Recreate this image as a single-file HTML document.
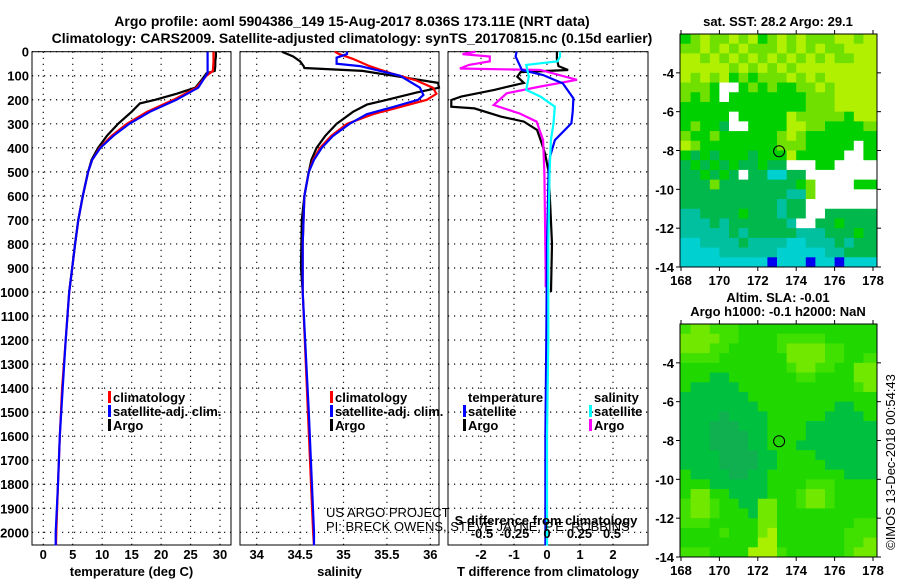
<!DOCTYPE html>
<html><head><meta charset="utf-8"><style>
body{margin:0;background:#fff;width:900px;height:580px;overflow:hidden}
svg text{font-family:"Liberation Sans",sans-serif;font-weight:bold;font-size:13px;fill:#000}
svg text.ttl{font-size:14px}
</style></head><body>
<svg id="fig" width="900" height="580" xmlns="http://www.w3.org/2000/svg">
<text class="ttl" x="352" y="26" text-anchor="middle">Argo profile: aoml 5904386_149 15-Aug-2017 8.036S 173.11E (NRT data)</text>
<text class="ttl" x="352" y="43" text-anchor="middle">Climatology: CARS2009. Satellite-adjusted climatology: synTS_20170815.nc (0.15d earlier)</text>
</svg>
<script>
// ---------- data ----------
const depthTicks=[0,100,200,300,400,500,600,700,800,900,1000,1100,1200,1300,1400,1500,1600,1700,1800,1900,2000];
const tempTicks=[0,5,10,15,20,25,30];
const salTicks=[34,34.5,35,35.5,36];
const salTickLabels=["34","34.5","35","35.5","36"];
const tdiffTicks=[-2,-1,0,1,2];
const sdiffTicks=[-0.5,-0.25,0,0.25,0.5];
const sdiffTickLabels=["-0.5","-0.25","0","0.25","0.5"];
// temperature profiles
const tArgoDepth=[0,20,40,60,80,90,120,150,175,200,215,250,300,350,400,450,500,600,700,800,900,1000];
const tArgoVal=[29.3,29.3,29.2,29.2,29.1,27.7,26.8,25.8,22.6,19,16.4,15.0,12.7,10.8,9.3,8.2,7.6,6.7,5.95,5.4,4.9,4.4];
const tClimDepth=[0,40,80,100,150,200,250,300,350,400,450,500,600,700,800,900,1000,1200,1400,1600,1800,2000,2055];
const tClimVal=[28.9,28.9,28.8,27.7,26.0,22.1,17.6,14.2,11.6,9.6,8.3,7.6,6.7,5.95,5.4,4.9,4.4,3.8,3.2,2.8,2.5,2.2,2.15];
const tSatDepth=[0,40,90,100,150,200,250,300,350,400,450,500,600,700,800,900,1000,1200,1400,1600,1800,2000,2055];
const tSatVal=[27.9,27.9,27.9,27.6,26.3,22.6,18.1,14.6,11.9,9.7,8.3,7.6,6.7,5.95,5.4,4.9,4.4,3.8,3.3,2.8,2.5,2.1,2.1];
// salinity profiles
const sArgoDepth=[0,20,40,60,68,80,100,130,150,170,200,220,250,300,350,400,450,500,600,700,900,1000];
const sArgoVal=[34.29,34.42,34.5,34.54,34.55,35.22,35.57,36.09,36.1,35.84,35.5,35.27,35.11,34.92,34.79,34.69,34.63,34.6,34.55,34.52,34.51,34.53];
const sClimDepth=[0,10,30,60,90,120,150,175,200,230,260,300,350,400,450,500,600,800,1000,1500,2000,2055];
const sClimVal=[34.9,34.95,35.11,35.3,35.55,35.84,36.03,36.07,35.96,35.65,35.34,35.04,34.86,34.73,34.65,34.6,34.55,34.53,34.53,34.59,34.65,34.66];
const sSatDepth=[0,10,25,50,60,100,150,180,200,230,260,300,350,400,450,500,600,800,1000,1500,2000,2055];
const sSatVal=[35.04,35.04,34.92,34.92,35.19,35.65,35.88,35.92,35.86,35.57,35.27,35.07,34.88,34.75,34.66,34.6,34.55,34.53,34.53,34.6,34.66,34.66];
// difference profiles
const dTArgoDepth=[0,30,60,76,85,104,130,159,187,201,229,236,270,291,326,381,423,500,645,800,1000];
const dTArgoVal=[0.3,0.3,0.35,0.64,-0.8,-0.9,-0.7,-1.6,-2.6,-2.9,-2.9,-2.2,-1.4,-0.7,-0.3,-0.16,-0.06,0.05,0.1,0.15,0.12];
const dTSatDepth=[0,20,50,76,97,132,194,250,298,368,437,500,800,1200,1600,2055];
const dTSatVal=[-0.92,-0.95,-0.85,-0.76,-0.12,0.48,0.8,0.78,0.74,0.24,0.09,0.05,0.0,-0.02,-0.05,-0.05];
const dSArgoDepth=[0,10,20,40,55,70,76,117,145,173,222,257,291,368,507,923,980];
const dSArgoVal=[-0.55,-0.65,-0.44,-0.44,-0.6,-0.67,-0.05,0.23,-0.05,-0.31,-0.41,-0.21,-0.08,-0.03,-0.02,-0.01,-0.01];
const dSSatDepth=[0,20,40,55,104,159,187,229,298,368,500,800,1200,1600,2055];
const dSSatVal=[0.1,0.1,0.08,-0.16,-0.14,-0.16,-0.05,0.06,0.05,0.03,0.02,0.01,0.01,0.0,0.0];
// maps: rows lat -2 .. -14 (0.5 deg), cols lon 168 .. 178 (0.5 deg); codes are colour levels (0 = missing)
const sstRows=["56766767567676667767","66767676667676766777","77676767676767676677","77777676767677777777","76767565666767677777","66650056565566767777","65650555555556667777","55555555555556667777","55555055555766666577","56554005555776655556","65565555556765555555","76555555556665555505","54545554555755555005","45454544544000550000","44545404422440000000","44464444444456000055","44444444444336000000","44444444443440000000","33444454443440044444","33343444444300445444","33333434444433344454","22333343333223334344","22223333332222233444","22222222212221221222"];
const slaRows=["45544433333333333333","55554433334444433333","55544333334555544333","44443333333555544334","33333333333455443355","33322333333344333355","32222233333333333345","22222223333333333333","22222222333333332233","22221222233333322223","22211122233332222222","22211112233332222222","22211112233322222222","22221111223333222222","22221111223333322222","32222112233333333222","33322222233334443333","35533222233345543333","45543322553345543333","45543332553333333333","44433333553333333344","33334333563333333444","33333333663333333445","44433336664333333455"];
const lonTicks=[168,170,172,174,176,178];
const latTicks=[-4,-6,-8,-10,-12,-14];
const sstColors=["#ffffff","#0000f0","#00d0d0","#00c0a0","#00b84c","#00d000","#70e000","#b0f000"];
const slaColors=["#ffffff","#10b050","#00c040","#20d800","#40e000","#70e800","#a8f000"];
const argoLon=173.11, argoLat=-8.036;
</script>
<script>
const svg=document.getElementById('fig');
const NS="http://www.w3.org/2000/svg";
function mk(tag,attrs,parent){const e=document.createElementNS(NS,tag);for(const k in attrs)e.setAttribute(k,attrs[k]);(parent||svg).appendChild(e);return e;}
const Y0=51.7,YK=0.2403,YB=545;
const yD=d=>Y0+d*YK;
function panel(name,x0,x1,xs,ticks,labels,title){
  const g=mk('g',{});
  
  
  for(const d of depthTicks){const l=mk('line',{x1:x0,x2:x1,y1:yD(d),y2:yD(d),stroke:'#000','stroke-width':1.2,'stroke-dasharray':'1.2,4.8'},g);
    }
  ticks.forEach((t,i)=>{const x=xs(t);const l=mk('line',{x1:x,x2:x,y1:Y0,y2:YB,stroke:'#000','stroke-width':1.2,'stroke-dasharray':'1.2,4.8'},g);
    
    const tx=mk('text',{x:x,y:559,'text-anchor':'middle'},g);tx.textContent=labels[i];
    });
  const r=mk('rect',{x:x0,y:Y0,width:x1-x0,height:YB-Y0,fill:'none',stroke:'#000','stroke-width':1},g);
  
  const tt=mk('text',{x:(x0+x1)/2,y:576,'text-anchor':'middle'},g);tt.textContent=title;
  
  return g;
}
function line(g,xs,dep,val,color,name){
  const pts=dep.map((d,i)=>xs(val[i]).toFixed(1)+','+yD(d).toFixed(1)).join(' ');
  const p=mk('polyline',{points:pts,fill:'none',stroke:color,'stroke-width':2.2,'stroke-linejoin':'miter'},g);
  
}
for(const d of depthTicks){const t=mk('text',{x:29,y:yD(d)+5,'text-anchor':'end'});t.textContent=d;
  }
const xT=v=>43.3+v*5.89;
const gT=panel('temperature-panel',32,231,xT,tempTicks,tempTicks.map(String),'temperature (deg C)');
line(gT,xT,tArgoDepth,tArgoVal,'#000','argo-temperature-line');
line(gT,xT,tClimDepth,tClimVal,'#f00','climatology-temperature-line');
line(gT,xT,tSatDepth,tSatVal,'#00f','satellite-temperature-line');
const xS=v=>256.7+(v-34)*86.8;
const gS=panel('salinity-panel',240,439,xS,salTicks,salTickLabels,'salinity');
line(gS,xS,sArgoDepth,sArgoVal,'#000','argo-salinity-line');
line(gS,xS,sClimDepth,sClimVal,'#f00','climatology-salinity-line');
line(gS,xS,sSatDepth,sSatVal,'#00f','satellite-salinity-line');
const xDT=v=>547+v*33;
const xDS=v=>547+v*130;
const gD=panel('difference-panel',448,648,xDT,tdiffTicks,tdiffTicks.map(String),'T difference from climatology');
line(gD,xDT,dTArgoDepth,dTArgoVal,'#000','argo-t-diff-line');
line(gD,xDS,dSArgoDepth,dSArgoVal,'#f0f','argo-s-diff-line');
line(gD,xDT,dTSatDepth,dTSatVal,'#00f','satellite-t-diff-line');
line(gD,xDS,dSSatDepth,dSSatVal,'#0ff','satellite-s-diff-line');
sdiffTicks.forEach((t,i)=>{const tx=mk('text',{x:xDS(t),y:538,'text-anchor':'middle'});tx.textContent=sdiffTickLabels[i];
  });
let st=mk('text',{x:546,y:525,'text-anchor':'middle'});st.textContent='S difference from climatology';

for(const [txt,y] of [['US ARGO PROJECT',517],['PI: BRECK OWENS, STEVE JAYNE, P.E. ROBBINS',531]]){
  const c=mk('text',{x:326,y:y,fill:'#333'});c.textContent=txt;c.style.fontWeight='normal';
  }
function leg(x,y,color,label){
  if(color){const b=mk('rect',{x:x-5,y:y-11,width:3,height:12,fill:color});}
  const t=mk('text',{x:x,y:y});t.textContent=label;}
leg(113,402,'#f00','climatology');leg(113,416,'#00f','satellite-adj. clim.');leg(113,430,'#000','Argo');
leg(335,402,'#f00','climatology');leg(335,416,'#00f','satellite-adj. clim.');leg(335,430,'#000','Argo');
leg(468,402,null,'temperature');leg(468,416,'#00f','satellite');leg(468,430,'#000','Argo');
leg(594,402,null,'salinity');leg(594,416,'#0ff','satellite');leg(594,430,'#f0f','Argo');
function map(name,rows,colors,top,bottom,titles){
  const g=mk('g',{});
  const L=680,R=877;
  const xL=lon=>681+(lon-168)*19.2;
  const yL=lat=>top+(-2-lat)*((bottom-top)/12);
  const nc=rows[0].length;
  rows.forEach((row,ri)=>{for(let ci=0;ci<nc;ci++){
    const lon0=168+ci*0.5,lat0=-2-ri*0.5;
    const x=ci===0?L:xL(lon0),x2=ci===nc-1?R:xL(lon0+0.5);
    const c=mk('rect',{x:x,y:yL(lat0),width:x2-x+0.4,height:yL(lat0-0.5)-yL(lat0)+0.4,fill:colors[+row[ci]]},g);
    }});
  const fr=mk('rect',{x:L,y:top,width:R-L,height:bottom-top,fill:'none',stroke:'#000','stroke-width':1},g);
  
  for(const lon of lonTicks){const x=xL(lon);mk('line',{x1:x,x2:x,y1:top-4,y2:top,stroke:'#000'},g);mk('line',{x1:x,x2:x,y1:bottom,y2:bottom+4,stroke:'#000'},g);
    const t=mk('text',{x:x,y:bottom+18,'text-anchor':'middle'},g);t.textContent=lon;}
  for(const lat of latTicks){const y=yL(lat);mk('line',{x1:L-4,x2:L,y1:y,y2:y,stroke:'#000'},g);mk('line',{x1:R,x2:R+4,y1:y,y2:y,stroke:'#000'},g);
    const t=mk('text',{x:L-6,y:y+5,'text-anchor':'end'},g);t.textContent=lat;}
  const m=mk('circle',{cx:xL(argoLon),cy:yL(argoLat),r:5.5,fill:'none',stroke:'#000','stroke-width':1},g);
  
  titles.forEach(([txt,y])=>{const t=mk('text',{x:778,y:y,'text-anchor':'middle'},g);t.textContent=txt;});
}
map('sst-map',sstRows,sstColors,34,267,[['sat. SST: 28.2 Argo: 29.1',26]]);
map('sla-map',slaRows,slaColors,324,557,[['Altim. SLA: -0.01',302],['Argo h1000: -0.1 h2000: NaN',316]]);
const cp=mk('text',{x:0,y:0,'text-anchor':'middle',transform:'translate(895,462) rotate(-90)'});
cp.style.fontWeight='normal';cp.textContent='©IMOS 13-Dec-2018 00:54:43';

</script>
</body></html>
